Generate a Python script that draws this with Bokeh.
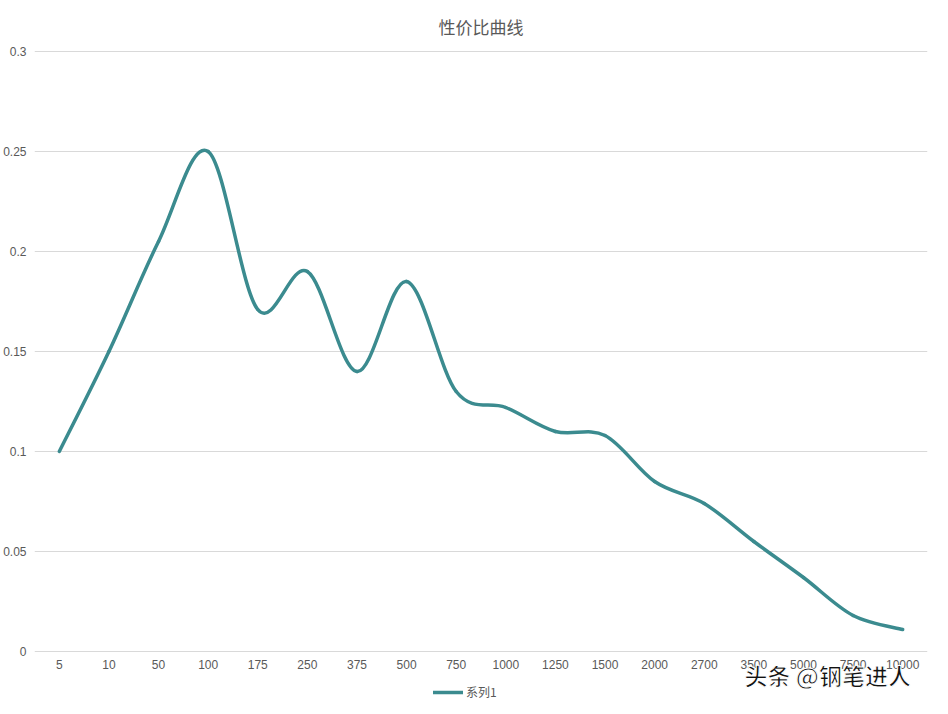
from bokeh.plotting import figure
from bokeh.models import FixedTicker, Legend, LegendItem, Label, ColumnDataSource, Range1d
from bokeh.embed import file_html
from bokeh.resources import INLINE

categories = ["5", "10", "50", "100", "175", "250", "375", "500", "750", "1000",
              "1250", "1500", "2000", "2700", "3500", "5000", "7500", "10000"]
values = [0.100, 0.150, 0.205, 0.250, 0.171, 0.190, 0.140, 0.185, 0.130, 0.122,
          0.110, 0.108, 0.085, 0.074, 0.055, 0.037, 0.018, 0.011]
y_ticks = [0, 0.05, 0.1, 0.15, 0.2, 0.25, 0.3]
y_labels = ["0", "0.05", "0.1", "0.15", "0.2", "0.25", "0.3"]
series_name = "系列1"
title_text = "性价比曲线"
watermark_text = "头条 @钢笔进人"

LINE_COLOR = "#3b8b8f"
TEXT_COLOR = "#595959"
FONT = "Noto Sans CJK SC"

# frame extends below the zero line so the legend and watermark sit inside it
p = figure(frame_width=893, frame_height=655, output_backend="svg", toolbar_location=None,
           x_range=Range1d(-0.5, len(categories) - 0.5), y_range=Range1d(-0.027, 0.3005),
           min_border_left=34, min_border_right=5, min_border_top=4, min_border_bottom=0)
p.outline_line_color = None
p.background_fill_color = "white"
p.border_fill_color = "white"

p.title.text = title_text
p.title.align = "center"
p.title.text_font = FONT
p.title.text_font_size = "17px"
p.title.text_font_style = "normal"
p.title.text_color = TEXT_COLOR
p.title.standoff = 23

xs = list(range(len(categories)))
p.xaxis.fixed_location = 0
p.xaxis.ticker = FixedTicker(ticks=xs)
p.xaxis.major_label_overrides = {i: c for i, c in enumerate(categories)}
p.yaxis.ticker = FixedTicker(ticks=y_ticks)
p.yaxis.major_label_overrides = {t: l for t, l in zip(y_ticks, y_labels)}
for ax in (p.xaxis[0], p.yaxis[0]):
    ax.axis_line_color = None
    ax.major_tick_line_color = None
    ax.minor_tick_line_color = None
    ax.major_tick_out = 0
    ax.major_label_text_color = TEXT_COLOR
    ax.major_label_text_font = "Liberation Sans"
    ax.major_label_text_font_size = "12px"
p.xaxis.major_label_standoff = 8
p.yaxis.major_label_standoff = 8
p.xgrid.grid_line_color = None
p.ygrid.grid_line_color = "#d9d9d9"
p.ygrid.grid_line_width = 1

# smoothed line drawn as bezier segments between successive data points
n = len(values)
x0, y0, x1, y1, cx0, cy0, cx1, cy1 = [], [], [], [], [], [], [], []
t = 1.0 / 6.0
for i in range(n - 1):
    xa, ya = xs[i], values[i]
    xb, yb = xs[i + 1], values[i + 1]
    xp, yp = (xs[i - 1], values[i - 1]) if i > 0 else (xa, ya)
    xn, yn = (xs[i + 2], values[i + 2]) if i + 2 < n else (xb, yb)
    x0.append(xa); y0.append(ya); x1.append(xb); y1.append(yb)
    cx0.append(xa + (xb - xp) * t); cy0.append(ya + (yb - yp) * t)
    cx1.append(xb - (xn - xa) * t); cy1.append(yb - (yn - ya) * t)

src = ColumnDataSource(dict(x0=x0, y0=y0, x1=x1, y1=y1, cx0=cx0, cy0=cy0, cx1=cx1, cy1=cy1))
r = p.bezier(x0="x0", y0="y0", x1="x1", y1="y1", cx0="cx0", cy0="cy0", cx1="cx1", cy1="cy1",
             source=src, line_color=LINE_COLOR, line_width=3.5, line_cap="round")

legend = Legend(items=[LegendItem(label=series_name, renderers=[r])],
                orientation="horizontal", location=(399, 5),
                label_text_font=FONT, label_text_font_size="12px",
                label_text_color=TEXT_COLOR, border_line_color=None,
                background_fill_alpha=0, glyph_width=30, glyph_height=12,
                padding=0, margin=0, spacing=0, label_standoff=3, label_height=12)
p.add_layout(legend)

watermark = Label(x=710, y=14, x_units="screen", y_units="screen", text=watermark_text,
                  text_font=FONT, text_font_size="23px", text_color="#111111",
                  text_font_style="bold", text_baseline="bottom",
                  text_outline_color="white")
p.add_layout(watermark)

open("out.html", "w").write(file_html(p, INLINE))
